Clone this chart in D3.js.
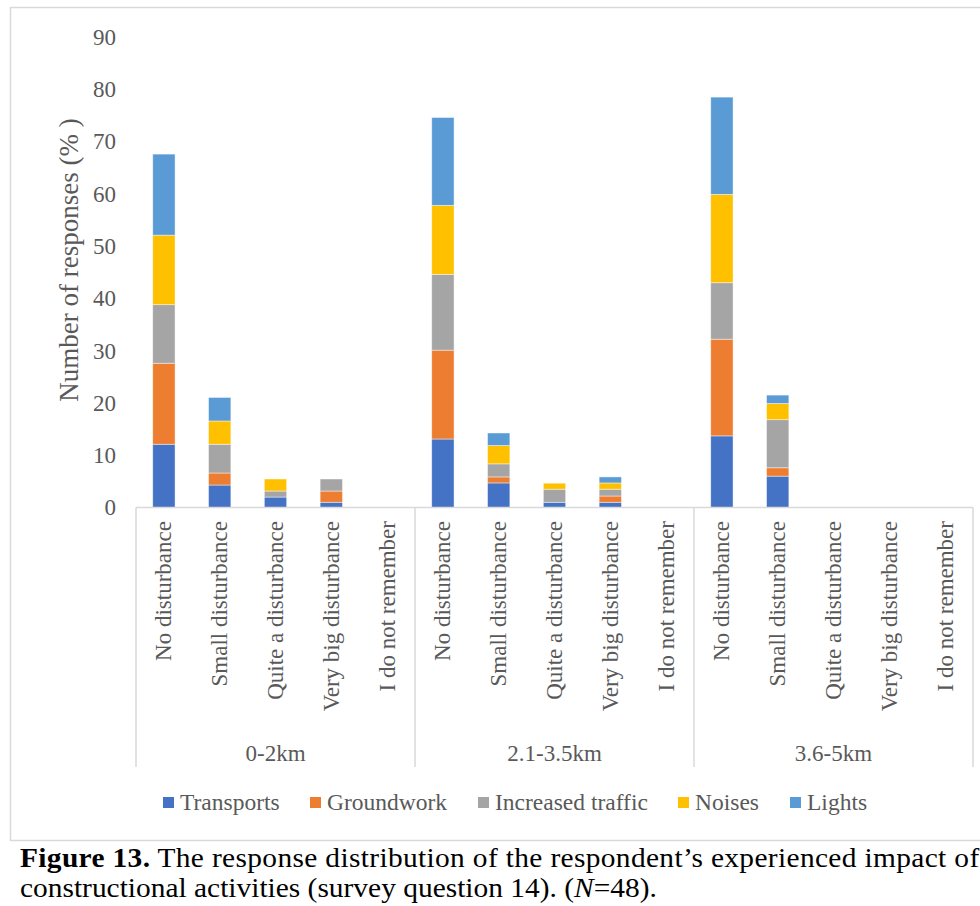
<!DOCTYPE html>
<html>
<head>
<meta charset="utf-8">
<script src="https://cdn.jsdelivr.net/npm/d3@7"></script>
<style>
  html, body { margin: 0; padding: 0; background: #fff; }
  svg { display: block; }
  text { font-family: "Liberation Serif", "Times New Roman", serif; }
</style>
</head>
<body>
<svg id="chart" width="980" height="906"></svg>
<script>
// Distance bands and disturbance levels
const groups = ["0-2km", "2.1-3.5km", "3.6-5km"];
const levels = ["No disturbance", "Small disturbance", "Quite a disturbance", "Very big disturbance", "I do not remember"];
const seriesNames = ["Transports", "Groundwork", "Increased traffic", "Noises", "Lights"];
const seriesColors = ["#4472C4", "#ED7D31", "#A5A5A5", "#FFC000", "#5B9BD5"];
const yTicks = [0, 10, 20, 30, 40, 50, 60, 70, 80, 90];

// Share of responses (%) per series, in order: group by group, level by level
const transports       = [12.1, 4.3, 2.0, 1.0, 0,   13.1, 4.7, 1.0, 1.0, 0,   13.7, 6.0, 0, 0, 0];
const groundwork       = [15.5, 2.3, 0,   2.15, 0,  17.0, 1.15, 0,  1.2, 0,   18.5, 1.6, 0, 0, 0];
const increasedTraffic = [11.2, 5.5, 1.15, 2.3, 0,  14.5, 2.5, 2.5, 1.3, 0,   10.8, 9.2, 0, 0, 0];
const noises           = [13.3, 4.45, 2.3, 0,   0,  13.2, 3.5, 1.15, 1.2, 0,  16.9, 3.1, 0, 0, 0];
const lights           = [15.5, 4.5, 0,   0,    0,  16.8, 2.4, 0,   1.15, 0,  18.6, 1.6, 0, 0, 0];

const seriesValues = [transports, groundwork, increasedTraffic, noises, lights];

// Build rows for stacking
const keys = [];
groups.forEach(g => levels.forEach(l => keys.push(g + "|" + l)));
const rows = keys.map((k, i) => {
  const r = { key: k, group: k.split("|")[0], level: k.split("|")[1] };
  seriesNames.forEach((s, j) => { r[s] = seriesValues[j][i]; });
  return r;
});

const svg = d3.select("#chart");
const plotLeft = 136, plotRight = 973, plotTop = 37, plotBottom = 507.5;
const textGray = "#595959", lineGray = "#D9D9D9";

// Outer frame of the chart
svg.append("rect")
  .attr("x", 10.5).attr("y", 7.5).attr("width", 985).attr("height", 833)
  .attr("fill", "none").attr("stroke", lineGray).attr("stroke-width", 1.5);

const x = d3.scaleBand().domain(keys).range([plotLeft, plotRight])
  .paddingInner(0.6).paddingOuter(0.3);
const y = d3.scaleLinear().domain([0, 90]).range([plotBottom, plotTop]);
const color = d3.scaleOrdinal().domain(seriesNames).range(seriesColors);

// Stacked bars
const stacked = d3.stack().keys(seriesNames)(rows);
svg.append("g").selectAll("g").data(stacked).join("g")
  .attr("fill", d => color(d.key))
  .selectAll("rect").data(d => d.filter(s => s[1] - s[0] > 0)).join("rect")
  .attr("x", d => x(d.data.key))
  .attr("width", x.bandwidth())
  .attr("y", d => y(d[1]))
  .attr("height", d => y(d[0]) - y(d[1]))
  .attr("stroke", "#ffffff").attr("stroke-opacity", 0.55).attr("stroke-width", 0.8);

// Y axis labels (no axis line, no gridlines)
const yAxis = d3.axisLeft(y).tickValues(yTicks).tickSize(0).tickPadding(0);
const yg = svg.append("g").attr("transform", "translate(116,0)").call(yAxis);
yg.select(".domain").remove();
yg.selectAll("text").attr("fill", textGray).attr("font-size", 23)
  .attr("font-family", "Liberation Serif, Times New Roman, serif");

// Y axis title
svg.append("text")
  .attr("transform", "translate(78,260) rotate(-90)")
  .attr("text-anchor", "middle")
  .attr("font-size", 27).attr("fill", textGray)
  .text("Number of responses (% )");

// X axis baseline
svg.append("line")
  .attr("x1", plotLeft).attr("x2", plotRight)
  .attr("y1", plotBottom).attr("y2", plotBottom)
  .attr("stroke", lineGray).attr("stroke-width", 1.5);

// Group separators
const groupEdges = groups.map(g => x(g + "|" + levels[0]) - x.step() * x.paddingOuter());
groupEdges.push(plotRight);
svg.append("g").selectAll("line").data(groupEdges).join("line")
  .attr("x1", d => d).attr("x2", d => d)
  .attr("y1", plotBottom).attr("y2", 767)
  .attr("stroke", lineGray).attr("stroke-width", 1.5);

// Level labels, rotated
svg.append("g").selectAll("text").data(rows).join("text")
  .attr("transform", d => `translate(${x(d.key) + x.bandwidth() / 2},521) rotate(-90)`)
  .attr("text-anchor", "end")
  .attr("dy", "0.33em")
  .attr("font-size", 23).attr("fill", textGray)
  .text(d => d.level);

// Group labels
svg.append("g").selectAll("text").data(groups).join("text")
  .attr("x", (g, i) => (groupEdges[i] + groupEdges[i + 1]) / 2)
  .attr("y", 761)
  .attr("text-anchor", "middle")
  .attr("font-size", 23).attr("fill", textGray)
  .text(d => d);

// Legend
const legendX = [163, 310, 478, 678, 790];
const legend = svg.append("g").selectAll("g").data(seriesNames).join("g")
  .attr("transform", (d, i) => `translate(${legendX[i]},797)`);
legend.append("rect").attr("width", 11).attr("height", 11).attr("fill", d => color(d));
legend.append("text").attr("x", 17).attr("y", 13)
  .attr("font-size", 23.5).attr("fill", textGray).text(d => d);

// Caption, set slightly wide
const caption = svg.append("g").attr("transform", "translate(20,0) scale(1.09,1)");
const cap1 = caption.append("text").attr("x", 0).attr("y", 867)
  .attr("font-size", 27).attr("fill", "#000")
  .attr("textLength", 880).attr("lengthAdjust", "spacing");
cap1.append("tspan").attr("font-weight", "bold").text("Figure 13.");
cap1.append("tspan").text(" The response distribution of the respondent\u2019s experienced impact of");

const cap2 = caption.append("text").attr("x", 0).attr("y", 897)
  .attr("font-size", 27).attr("fill", "#000");
cap2.append("tspan").text("constructional activities (survey question 14). (");
cap2.append("tspan").attr("font-style", "italic").text("N");
cap2.append("tspan").text("=48).");
</script>
</body>
</html>
